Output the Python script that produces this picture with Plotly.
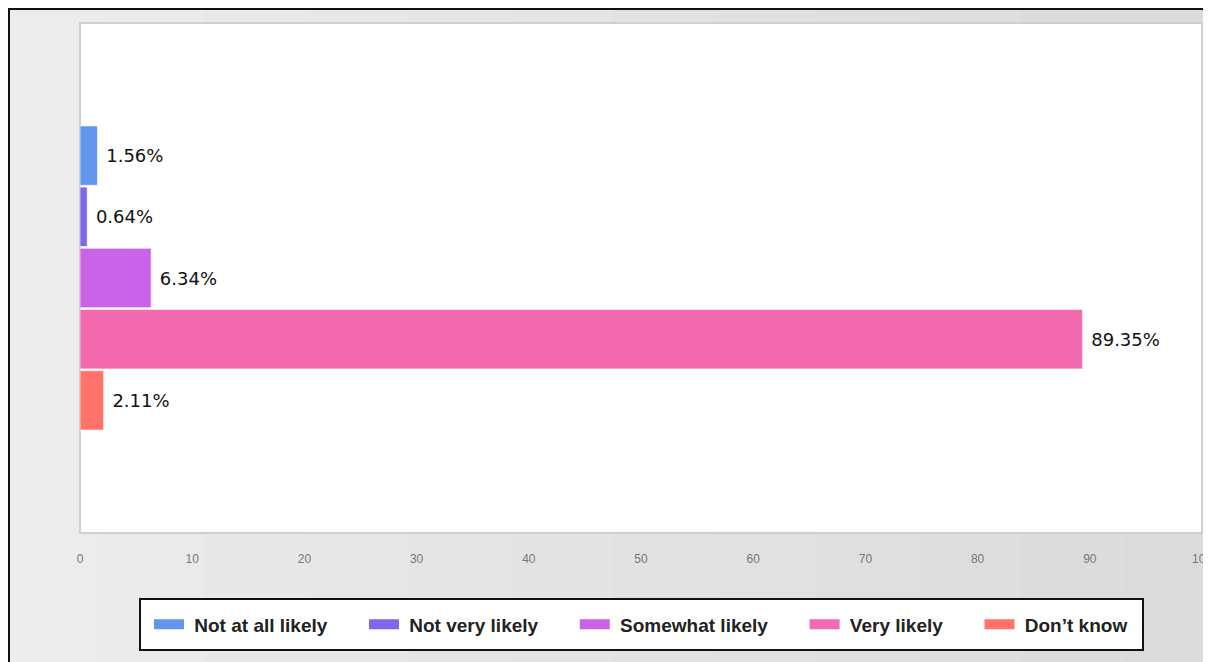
import plotly.graph_objects as go

# ── Data ──────────────────────────────────────────────────────────────────────
categories = ['Not at all likely', 'Not very likely', 'Somewhat likely',
              'Very likely', 'Don\u2019t know']
values     = [1.56, 0.64, 6.34, 89.35, 2.11]
colors     = ['#6495ED', '#7F66EA', '#C963E8', '#F46AAF', '#FF736B']
question   = ['Q']
x_ticks    = [0, 10, 20, 30, 40, 50, 60, 70, 80, 90, 100]

fig = go.Figure()

# bars (one per answer, grouped on a single category)
for name, v, c in zip(categories, values, colors):
    fig.add_trace(go.Bar(
        y=question, x=[v], orientation='h', name=name,
        marker=dict(color=c, line=dict(color='rgba(255,255,255,0.6)', width=1)),
        text=[f'\u00a0{v:.2f}%'], textposition='outside', cliponaxis=False,
        textfont=dict(family='DejaVu Sans', size=18, color='#111'),
        showlegend=False, hoverinfo='x+name',
    ))

# legend-only entries (wide flat swatches); pad names for wider spacing
for i, (name, c) in enumerate(zip(categories, colors)):
    pad = '\u00a0' * 6 if i < len(categories) - 1 else ''
    fig.add_trace(go.Scatter(
        x=[None], y=[None], mode='lines', name='\u00a0' + name + pad,
        line=dict(color=c, width=10), showlegend=True,
    ))

# ── Background: light gray gradient + white plot panel + legend box ─────────
# page is offset ~8px by the browser, so the figure is 1203x654
shapes = []
n_strips = 12
x0, x1 = -0.07, 1.02
for i in range(n_strips):
    g = int(236 - (236 - 219) * i / (n_strips - 1))
    shapes.append(dict(
        type='rect', xref='paper', yref='paper', layer='below',
        x0=x0 + (x1 - x0) * i / n_strips, x1=x0 + (x1 - x0) * (i + 1) / n_strips,
        y0=-0.3, y1=1.1, line=dict(width=0),
        fillcolor=f'rgb({g},{g},{g})',
    ))
# white plot panel with soft gray frame
shapes.append(dict(type='rect', xref='paper', yref='paper', layer='below',
                   x0=0, x1=1, y0=0, y1=1, fillcolor='white',
                   line=dict(color='#cfcfcf', width=2)))
# outer black frame
shapes.append(dict(type='rect', xref='paper', yref='paper', layer='above',
                   x0=-0.0633, x1=1.03, y0=-0.35, y1=1.0275,
                   fillcolor='rgba(0,0,0,0)', line=dict(color='#111', width=2)))
# legend box
shapes.append(dict(type='rect', xref='paper', yref='paper', layer='below',
                   x0=0.0535, x1=0.9474, y0=-0.2294, y1=-0.1294,
                   fillcolor='white', line=dict(color='#111', width=2)))

fig.update_layout(
    width=1203, height=654,
    margin=dict(l=72, r=9, t=15, b=129, autoexpand=False),
    paper_bgcolor='#e4e4e4', plot_bgcolor='rgba(0,0,0,0)',
    barmode='group', bargap=0.4, bargroupgap=0.03,
    shapes=shapes,
    xaxis=dict(range=[0, 100], tickvals=x_ticks, showgrid=False, zeroline=False,
               showline=False, ticks='', ticklabelstandoff=17,
               ticklabeloverflow='allow', automargin=False,
               tickfont=dict(family='Liberation Sans, Arial', size=12, color='#777')),
    yaxis=dict(autorange='reversed', showticklabels=False, showgrid=False,
               zeroline=False, showline=False, automargin=False),
    legend=dict(orientation='h', x=0.5, xanchor='center', y=-0.179, yanchor='middle',
                bgcolor='rgba(0,0,0,0)', borderwidth=0,
                font=dict(family='Liberation Sans, Arial', size=19, color='#222',
                          weight='bold')),
    showlegend=True,
)

fig.write_html("out.html")
